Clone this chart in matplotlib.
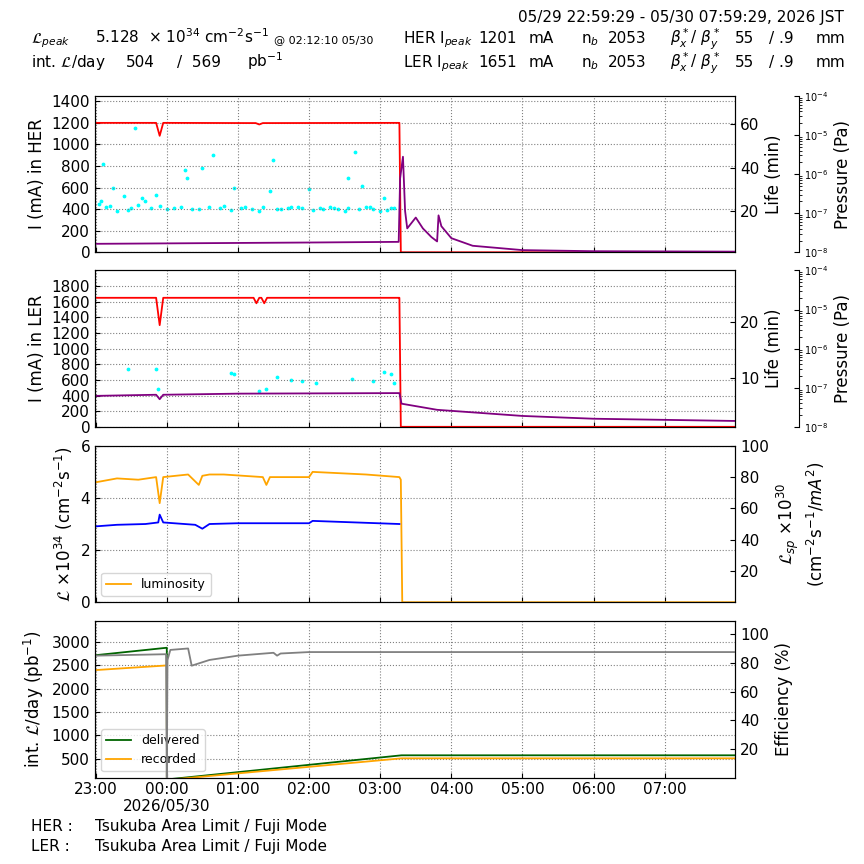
import matplotlib
matplotlib.use("Agg")
import matplotlib.pyplot as plt
import numpy as np

# time in hours since 23:00 (05/29)
her_t = [0.0, 0.85, 0.9, 0.95, 2.25, 2.3, 2.35, 4.26, 4.27, 4.29, 8.99]
her_i = [1200, 1200, 1080, 1200, 1198, 1185, 1198, 1200, 1200, 0, 0]
her_life_t = [0.0, 1.0, 2.0, 3.0, 4.26, 4.28, 4.32, 4.35, 4.38, 4.5, 4.6, 4.72, 4.8, 4.82, 4.86, 5.0, 5.3, 6.0, 7.0, 8.99]
her_life = [4.9, 5.1, 5.3, 5.5, 5.8, 35, 45, 20, 12, 17, 12, 8, 6, 18, 13, 7.5, 4, 2, 1.5, 1.3]
her_sc_t = [0.05, 0.1, 0.15, 0.25, 0.4, 0.5, 0.55, 0.65, 0.78, 0.9, 1.0, 1.2, 1.35, 1.5, 1.65, 1.75, 1.8, 1.95, 2.1, 2.2,
            2.35, 2.5, 2.6, 2.75, 2.9, 3.0, 3.15, 3.3, 3.4, 3.55, 3.65, 3.8, 3.9, 4.05, 4.15, 0.3, 0.7, 1.28, 1.25, 2.45, 3.2, 3.55, 4.0, 0.08, 0.85, 3.75, 2.7,
            0.2, 0.45, 0.6, 1.1, 1.45, 1.6, 1.9, 2.05, 2.3, 2.55, 2.85, 3.05, 3.35, 3.5, 3.7, 3.85, 4.1, 4.2]
her_sc_v = [450, 820, 420, 600, 520, 410, 1150, 500, 410, 430, 400, 420, 400, 780, 900, 410, 430, 600, 420, 400,
            420, 860, 400, 420, 410, 590, 410, 420, 400, 410, 930, 420, 400, 500, 410, 380, 480, 690, 760, 570, 400, 690, 380, 480, 530, 610, 410,
            430, 390, 440, 410, 400, 420, 390, 410, 380, 400, 420, 390, 410, 380, 400, 420, 390, 410]
ler_t = [0.0, 0.85, 0.9, 0.95, 2.22, 2.26, 2.3, 2.33, 2.37, 2.41, 4.26, 4.27, 4.29, 8.99]
ler_i = [1650, 1650, 1300, 1650, 1650, 1580, 1650, 1650, 1580, 1650, 1650, 1650, 0, 0]
ler_life_t = [0.0, 0.85, 0.9, 0.95, 2.0, 4.27, 4.3, 4.8, 6.0, 7.0, 8.99]
ler_life = [6.8, 7.0, 6.2, 7.0, 7.2, 7.3, 5.4, 4.3, 3.2, 2.7, 2.3]
ler_sc_t = [0.45, 0.85, 0.88, 1.9, 1.95, 2.3, 2.4, 2.55, 2.75, 2.9, 3.1, 3.6, 3.9, 4.05, 4.15, 4.2]
ler_sc_v = [740, 740, 480, 690, 680, 460, 480, 640, 600, 580, 560, 610, 580, 700, 680, 560]
lum_t = [0.0, 0.3, 0.6, 0.85, 0.9, 0.95, 1.3, 1.45, 1.5, 1.6, 1.8, 2.35, 2.4, 2.45, 3.0, 3.05, 3.8, 4.27, 4.29, 4.31, 8.99]
lum_v = [4.6, 4.75, 4.7, 4.8, 3.8, 4.8, 4.9, 4.5, 4.85, 4.9, 4.9, 4.8, 4.5, 4.8, 4.8, 5.0, 4.9, 4.8, 4.7, 0.0, 0.0]
slum_t = [0.0, 0.3, 0.7, 0.88, 0.9, 0.95, 1.4, 1.5, 1.6, 2.0, 3.0, 3.05, 4.27]
slum_v = [48.5, 49.5, 50, 51, 56, 51, 49.5, 47, 50, 50.5, 50.5, 52, 50]
int_t = [0.0, 1.0, 1.001, 4.3, 8.99]
deliv = [2720, 2880, 50, 569, 569]
recor = [2400, 2500, 40, 504, 504]
eff_t = [0.0, 0.99, 1.0, 1.01, 1.05, 1.3, 1.35, 1.6, 2.0, 2.5, 2.55, 2.6, 3.0, 8.99]
eff_v = [85, 86, 0, 82, 89, 90, 78, 82, 85, 87, 85, 86.5, 87.5, 87.5]
xlabels = ["23:00", "00:00", "01:00", "02:00", "03:00", "04:00", "05:00", "06:00", "07:00"]
xticks = [0, 1, 2, 3, 4, 5, 6, 7, 8]

fig = plt.figure(figsize=(8.64, 8.64), dpi=100)
L, W = 0.110, 0.741
XL = (-0.0086, 8.9914)
bottoms = [0.708, 0.506, 0.303, 0.100]
H = 0.181

def style(ax):
    ax.set_xlim(*XL)
    ax.set_xticks(xticks)
    ax.grid(True, color="gray", linestyle=":", linewidth=0.8)
    ax.tick_params(direction="in", labelsize=11)

axs = []
for b in bottoms:
    ax = fig.add_axes([L, b, W, H])
    style(ax)
    axs.append(ax)
for ax in axs[:3]:
    ax.set_xticklabels([])
axs[3].set_xticklabels(xlabels)
fig.text(L + (1.0 - XL[0]) / 9 * W, 0.061, "2026/05/30", ha="center", fontsize=11)

def pressure_axis(ax):
    p = ax.twinx()
    p.spines["right"].set_position(("axes", 1.1))
    p.set_yscale("log")
    p.set_ylim(1e-8, 1e-4)
    p.set_ylabel("Pressure (Pa)", fontsize=12)
    p.tick_params(labelsize=7, direction="in")
    for s in ["top", "bottom", "left"]:
        p.spines[s].set_visible(False)

# Panel 1 HER
ax = axs[0]
ax.plot(her_t, her_i, color="red", lw=1.3)
ax.scatter(her_sc_t, her_sc_v, s=3, color="cyan")
ax.set_ylim(0, 1450)
ax.set_yticks(range(0, 1401, 200))
ax.set_ylabel("I (mA) in HER", fontsize=12)
r = ax.twinx()
r.plot(her_life_t, her_life, color="purple", lw=1.3)
r.set_ylim(1, 73)
r.set_yticks([20, 40, 60])
r.tick_params(direction="in", labelsize=11)
r.set_ylabel("Life (min)", fontsize=12)
pressure_axis(ax)

# Panel 2 LER
ax = axs[1]
ax.plot(ler_t, ler_i, color="red", lw=1.3)
ax.scatter(ler_sc_t, ler_sc_v, s=3, color="cyan")
ax.set_ylim(0, 2000)
ax.set_yticks(range(0, 1801, 200))
ax.set_ylabel("I (mA) in LER", fontsize=12)
r = ax.twinx()
r.plot(ler_life_t, ler_life, color="purple", lw=1.3)
r.set_ylim(1.25, 29.3)
r.set_yticks([10, 20])
r.tick_params(direction="in", labelsize=11)
r.set_ylabel("Life (min)", fontsize=12)
pressure_axis(ax)

# Panel 3 luminosity
ax = axs[2]
ax.plot(lum_t, lum_v, color="orange", lw=1.3, label="luminosity")
ax.set_ylim(0, 6)
ax.set_ylabel(r"$\mathcal{L}$ $\times10^{34}$ (cm$^{-2}$s$^{-1}$)", fontsize=12)
ax.legend(loc="lower left", fontsize=9)
r = ax.twinx()
r.plot(slum_t, slum_v, color="blue", lw=1.3)
r.set_ylim(0, 100)
r.set_yticks([20, 40, 60, 80, 100])
r.tick_params(direction="in", labelsize=11)
r.set_ylabel("$\\mathcal{L}_{sp}$ $\\times10^{30}$\n(cm$^{-2}$s$^{-1}$/$mA^2$)", fontsize=12)

# Panel 4 integrated
ax = axs[3]
ax.plot(int_t, deliv, color="darkgreen", lw=1.3, label="delivered")
ax.plot(int_t, recor, color="orange", lw=1.3, label="recorded")
ax.set_ylim(90, 3450)
ax.set_yticks(range(500, 3001, 500))
ax.set_ylabel(r"int. $\mathcal{L}$/day (pb$^{-1}$)", fontsize=12)
ax.legend(loc="lower left", fontsize=9)
r = ax.twinx()
r.plot(eff_t, eff_v, color="gray", lw=1.3)
r.set_ylim(0, 109)
r.set_yticks([20, 40, 60, 80, 100])
r.tick_params(direction="in", labelsize=11)
r.set_ylabel("Efficiency (%)", fontsize=12)

# Header
fs = 11
fig.text(0.977, 0.975, "05/29 22:59:29 - 05/30 07:59:29, 2026 JST", ha="right", fontsize=fs)
y1, y2 = 0.950, 0.922
fig.text(0.036, y1, r"$\mathcal{L}_{peak}$", fontsize=fs)
fig.text(0.110, y1, r"5.128  $\times$ 10$^{34}$ cm$^{-2}$s$^{-1}$", fontsize=fs)
fig.text(0.317, y1, "@ 02:12:10 05/30", fontsize=8)
fig.text(0.036, y2, r"int. $\mathcal{L}$/day", fontsize=fs)
fig.text(0.146, y2, "504", fontsize=fs)
fig.text(0.205, y2, "/  569", fontsize=fs)
fig.text(0.286, y2, r"pb$^{-1}$", fontsize=fs)
for y, nm, cur in [(y1, "HER", "1201"), (y2, "LER", "1651")]:
    fig.text(0.466, y, nm + r" I$_{peak}$", fontsize=fs)
    fig.text(0.554, y, cur, fontsize=fs)
    fig.text(0.612, y, "mA", fontsize=fs)
    fig.text(0.673, y, r"n$_b$", fontsize=fs)
    fig.text(0.703, y, "2053", fontsize=fs)
    fig.text(0.775, y, r"$\beta_x^*$/ $\beta_y^*$", fontsize=fs)
    fig.text(0.851, y, "55", fontsize=fs)
    fig.text(0.890, y, "/ .9", fontsize=fs)
    fig.text(0.944, y, "mm", fontsize=fs)

fig.text(0.036, 0.038, "HER :", fontsize=fs)
fig.text(0.110, 0.038, "Tsukuba Area Limit / Fuji Mode", fontsize=fs)
fig.text(0.036, 0.015, "LER :", fontsize=fs)
fig.text(0.110, 0.015, "Tsukuba Area Limit / Fuji Mode", fontsize=fs)

fig.savefig("out.png", dpi=100)
